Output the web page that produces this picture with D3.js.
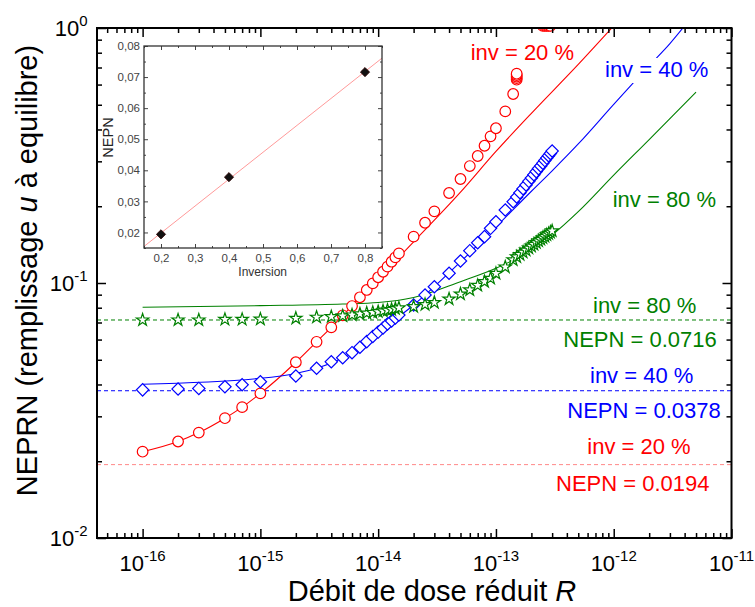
<!DOCTYPE html>
<html><head><meta charset="utf-8">
<script src="https://cdn.jsdelivr.net/npm/d3@7"></script>
<style>body{margin:0;background:#fff}svg text{font-family:"Liberation Sans",Arial,sans-serif}</style>
</head><body><svg id="c" width="755" height="607"></svg>
<script>
// ---------------- DATA ----------------
const redR = [1e-16,2e-16,3e-16,5e-16,7e-16,1e-15,2e-15,3e-15,4e-15,5e-15,6e-15,7e-15,8e-15,9e-15,1e-14,1.1e-14,1.2e-14,1.3e-14,1.4e-14,1.5e-14,2e-14,2.5e-14,3e-14,4e-14,5e-14,6e-14,7e-14,8e-14,9e-14,1e-13,1.2e-13,1.4e-13,1.5e-13,1.5e-13,1.5e-13,1.5e-13,1.5e-13,2.5e-13,2.6e-13,2.7e-13,2.8e-13,2.9e-13];
const redV = [0.0218,0.0239,0.0259,0.0295,0.0326,0.0369,0.0489,0.0588,0.0670,0.0747,0.0812,0.0879,0.0939,0.0997,0.1053,0.1107,0.1159,0.1212,0.1261,0.1307,0.152,0.1723,0.191,0.2254,0.2558,0.2875,0.3148,0.3454,0.376,0.4044,0.471,0.551,0.627,0.636,0.645,0.654,0.662,1.02,1.02,1.02,1.02,1.02];
const redFitR = [1e-16,2e-16,3e-16,5e-16,7e-16,1e-15,2e-15,3e-15,4e-15,5e-15,7e-15,1e-14,2e-14,5e-14,1e-13,2e-13,5e-13,1e-12];
const redFitV = [0.0218,0.0239,0.0259,0.0295,0.0326,0.0369,0.0489,0.0588,0.0670,0.0745,0.088,0.104,0.145,0.227,0.328,0.463,0.72,1.02];

const gridR = [1e-16,2e-16,3e-16,5e-16,7e-16,1e-15,2e-15,3e-15,4e-15,5e-15,6e-15,7e-15,8e-15,9e-15,1e-14,1.1e-14,1.2e-14,1.3e-14,1.4e-14,1.5e-14,2e-14,2.5e-14,3e-14,4e-14,5e-14,6e-14,7e-14,8e-14,9e-14,1e-13,1.2e-13,1.4e-13,1.5e-13,1.6e-13,1.7e-13,1.8e-13,1.9e-13,2e-13,2.1e-13,2.2e-13,2.3e-13,2.4e-13,2.5e-13,2.6e-13,2.7e-13,2.8e-13,2.9e-13,3e-13];
const blueV = [0.0381,0.0384,0.0386,0.0392,0.0399,0.0410,0.0432,0.0463,0.0491,0.0509,0.0533,0.0560,0.0589,0.0617,0.0642,0.0666,0.0691,0.0710,0.0729,0.0749,0.0820,0.0897,0.0967,0.1092,0.1220,0.1339,0.1439,0.1520,0.1638,0.1739,0.1933,0.2084,0.2174,0.2259,0.2343,0.2422,0.2504,0.2580,0.2658,0.2734,0.2809,0.2878,0.2949,0.3020,0.3089,0.3157,0.3223,0.3294];
const blueFitR = [1e-16,1e-15,2e-15,3e-15,5e-15,1e-14,2e-14,5e-14,1e-13,2e-13,3e-13,5e-13,1e-12,2e-12,3e-12,4e-12];
const blueFitV = [0.0401,0.0423,0.0442,0.0463,0.0509,0.0642,0.082,0.121,0.1658,0.229,0.2754,0.351,0.5017,0.712,0.869,1.02];

const greenV = [0.0716,0.0716,0.0716,0.0720,0.0720,0.0721,0.0727,0.0734,0.0738,0.0743,0.0749,0.0756,0.0762,0.0766,0.0772,0.0777,0.0782,0.0787,0.0793,0.0798,0.0808,0.0823,0.0838,0.0865,0.0905,0.0939,0.0978,0.1012,0.1043,0.1090,0.1155,0.1231,0.1265,0.1293,0.1320,0.1345,0.1371,0.1394,0.1417,0.1440,0.1462,0.1483,0.1503,0.1523,0.1543,0.1562,0.1581,0.1600];
const greenFitR = [1e-16,1e-15,5e-15,1e-14,2e-14,5e-14,1e-13,2e-13,3e-13,5e-13,1e-12,2e-12,5e-12];
const greenFitV = [0.0803,0.0815,0.0827,0.0838,0.0877,0.1012,0.1142,0.1347,0.1543,0.1905,0.265,0.3653,0.56];

const nepnLevels = [0.0716, 0.0378, 0.0194];
const invLabels = ["inv = 20 %", "inv = 40 %", "inv = 80 %"];
const nepnLabels = ["NEPN = 0.0716", "NEPN = 0.0378", "NEPN = 0.0194"];

const insetInv = [0.2, 0.4, 0.8];
const insetNepn = [0.0194, 0.0378, 0.0716];
const insetFitX = [0.15, 0.85];
const insetFitY = [0.0155, 0.0761];

const xDecades = [-16,-15,-14,-13,-12,-11];
const yDecades = [0,-1,-2];
const insetXTicks = [0.2,0.3,0.4,0.5,0.6,0.7,0.8];
const insetYTicks = [0.02,0.03,0.04,0.05,0.06,0.07,0.08];

// ---------------- DRAW ----------------
const RED="#ff0000", BLUE="#0000ff", GREEN="#008000";
const svg = d3.select("#c");
const M = {l:97, r:731.5, t:28, b:538};
const x = d3.scaleLog().domain([4.1e-17,1e-11]).range([M.l,M.r]);
const y = d3.scaleLog().domain([0.01,1]).range([M.b,M.t]);

svg.append("defs").append("clipPath").attr("id","pc").append("rect")
  .attr("x",M.l).attr("y",M.t).attr("width",M.r-M.l).attr("height",M.b-M.t);
const plot = svg.append("g").attr("clip-path","url(#pc)");

// dashed NEPN levels
const dashCols = [GREEN, BLUE, "#ff8888"];
nepnLevels.forEach((v,i)=>{
  plot.append("line").attr("x1",M.l).attr("x2",M.r).attr("y1",y(v)).attr("y2",y(v))
    .attr("stroke",dashCols[i]).attr("stroke-width",1).attr("stroke-dasharray","4,3");
});

const line = d3.line().x(d=>x(d[0])).y(d=>y(d[1])).curve(d3.curveMonotoneX);
function drawLine(R,V,c){
  plot.append("path").attr("d",line(R.map((r,i)=>[r,V[i]]))).attr("fill","none")
    .attr("stroke",c).attr("stroke-width",1.1);
}
drawLine(redFitR,redFitV,RED);
drawLine(blueFitR,blueFitV,BLUE);
drawLine(greenFitR,greenFitV,GREEN);

function drawMarks(R,V,sym,c,rot){
  plot.append("g").selectAll("path").data(R.map((r,i)=>[r,V[i]])).join("path")
    .attr("d",sym).attr("transform",d=>`translate(${x(d[0])},${y(d[1])})${rot?` rotate(${rot})`:""}`)
    .attr("fill","#fff").attr("stroke",c).attr("stroke-width",1.2);
}
drawMarks(redR,redV,d3.symbol(d3.symbolCircle,Math.PI*5.3*5.3)(),RED,0);
drawMarks(gridR,blueV,d3.symbol(d3.symbolSquare,76)(),BLUE,45);
drawMarks(gridR,greenV,d3.symbol(d3.symbolStar,48)(),GREEN,0);

// axes ticks (inward)
function minors(){const a=[];for(let k=-17;k<=-11;k++)for(let m=2;m<=9;m++){const v=m*Math.pow(10,k);if(v>=x.domain()[0]&&v<=x.domain()[1])a.push(v);}return a;}
function yminors(){const a=[];for(let k=-2;k<0;k++)for(let m=2;m<=9;m++)a.push(m*Math.pow(10,k));return a;}
const xMaj = xDecades.map(k=>Math.pow(10,k));
const yMaj = yDecades.map(k=>Math.pow(10,k));
const axG = svg.append("g");
function ax(gen,tx,ty,vals,size){
  const g=axG.append("g").attr("transform",`translate(${tx},${ty})`)
    .call(gen.tickValues(vals).tickSize(-size).tickFormat(""));
  g.select(".domain").remove();
  g.selectAll("line").attr("stroke","#000").attr("stroke-width",1.5);
}
ax(d3.axisBottom(x),0,M.b,xMaj,9); ax(d3.axisBottom(x),0,M.b,minors(),5);
ax(d3.axisTop(x),0,M.t,xMaj,9); ax(d3.axisTop(x),0,M.t,minors(),5);
ax(d3.axisLeft(y),M.l,0,yMaj,9); ax(d3.axisLeft(y),M.l,0,yminors(),5);
ax(d3.axisRight(y),M.r,0,yMaj,9); ax(d3.axisRight(y),M.r,0,yminors(),5);

svg.append("rect").attr("x",M.l).attr("y",M.t).attr("width",M.r-M.l).attr("height",M.b-M.t)
  .attr("fill","none").attr("stroke","#000").attr("stroke-width",2);

// tick labels
function supText(xp,yp,anchor,exp){
  const t=svg.append("text").attr("x",xp).attr("y",yp).attr("text-anchor",anchor).attr("font-size",22).attr("fill","#000");
  t.append("tspan").text("10");
  t.append("tspan").attr("font-size",15).attr("dy",-10).text(String(exp));
}
xDecades.forEach(k=>supText(x(Math.pow(10,k)),571,"middle",k));
yDecades.forEach(k=>supText(87.5,y(Math.pow(10,k))+8,"end",k));

// axis titles
const xt=svg.append("text").attr("x",432).attr("y",601).attr("text-anchor","middle").attr("font-size",29);
xt.append("tspan").text("Débit de dose réduit ");
xt.append("tspan").attr("font-style","italic").text("R");
const yt=svg.append("text").attr("transform","translate(36.5,270.5) rotate(-90)").attr("text-anchor","middle").attr("font-size",29);
yt.append("tspan").text("NEPRN (remplissage ");
yt.append("tspan").attr("font-style","italic").text("u");
yt.append("tspan").text(" à equilibre)");

// curve labels
const lab = [
  {t:invLabels[0], c:RED, x:470.7, y:60},
  {t:invLabels[1], c:BLUE, x:605, y:77, bg:true},
  {t:invLabels[2], c:GREEN, x:612.7, y:206.7},
  {t:invLabels[2], c:GREEN, x:593, y:313},
  {t:nepnLabels[0], c:GREEN, x:563.3, y:346.7},
  {t:invLabels[1], c:BLUE, x:590, y:383.3},
  {t:nepnLabels[1], c:BLUE, x:567.3, y:418.3},
  {t:invLabels[0], c:RED, x:587.3, y:454},
  {t:nepnLabels[2], c:RED, x:556, y:490.7}
];
lab.forEach(l=>{
  if(l.bg) svg.append("rect").attr("x",l.x-2).attr("y",l.y-19).attr("width",107).attr("height",25).attr("fill","#fff");
  svg.append("text").attr("x",l.x).attr("y",l.y).attr("font-size",22).attr("fill",l.c).text(l.t);
});

// ---------------- INSET ----------------
const I = {l:144, r:382, t:46, b:248};
const ix = d3.scaleLinear().domain([0.15,0.85]).range([I.l,I.r]);
const iy = d3.scaleLinear().domain([0.015,0.08]).range([I.b,I.t]);
const ig = svg.append("g");
ig.append("rect").attr("x",I.l).attr("y",I.t).attr("width",I.r-I.l).attr("height",I.b-I.t).attr("fill","#fff");
svg.append("defs").append("clipPath").attr("id","ic").append("rect")
  .attr("x",I.l).attr("y",I.t).attr("width",I.r-I.l).attr("height",I.b-I.t);
ig.append("line").attr("clip-path","url(#ic)")
  .attr("x1",ix(insetFitX[0])).attr("y1",iy(insetFitY[0])).attr("x2",ix(insetFitX[1])).attr("y2",iy(insetFitY[1]))
  .attr("stroke","#ff9a9a").attr("stroke-width",1);
ig.selectAll("path.pt").data(insetInv.map((v,i)=>[v,insetNepn[i]])).join("path").attr("class","pt")
  .attr("d",d3.symbol(d3.symbolSquare,42)()).attr("transform",d=>`translate(${ix(d[0])},${iy(d[1])}) rotate(45)`)
  .attr("fill","#111").attr("stroke","#2a0000").attr("stroke-width",0.8);

const fx = d=>d3.format(".1f")(d).replace(".",",");
const fy = d=>d3.format(".2f")(d).replace(".",",");
const ixMin=[0.15,0.25,0.35,0.45,0.55,0.65,0.75,0.85];
const iyMin=[0.015,0.025,0.035,0.045,0.055,0.065,0.075];
function iax(gen,tx,ty,vals,size,fmt,pad){
  const g=ig.append("g").attr("transform",`translate(${tx},${ty})`)
    .call(gen.tickValues(vals).tickSize(-size).tickPadding(pad||3).tickFormat(fmt||""));
  g.select(".domain").remove();
  g.selectAll("line").attr("stroke","#444").attr("stroke-width",1);
  g.selectAll("text").attr("fill","#444").attr("font-size",11.5).attr("font-family","Liberation Sans, Arial, sans-serif");
}
iax(d3.axisBottom(ix),0,I.b,insetXTicks,4,fx,5.5); iax(d3.axisBottom(ix),0,I.b,ixMin,2);
iax(d3.axisTop(ix),0,I.t,insetXTicks,4); iax(d3.axisTop(ix),0,I.t,ixMin,2);
iax(d3.axisLeft(iy),I.l,0,insetYTicks,4,fy,4); iax(d3.axisLeft(iy),I.l,0,iyMin,2);
iax(d3.axisRight(iy),I.r,0,insetYTicks,4); iax(d3.axisRight(iy),I.r,0,iyMin,2);
ig.append("rect").attr("x",I.l).attr("y",I.t).attr("width",I.r-I.l).attr("height",I.b-I.t)
  .attr("fill","none").attr("stroke","#333").attr("stroke-width",1.3);
ig.append("text").attr("x",262.7).attr("y",275.5).attr("text-anchor","middle").attr("font-size",12).attr("fill","#333").text("Inversion");
ig.append("text").attr("transform","translate(112.5,137.5) rotate(-90)").attr("text-anchor","middle").attr("font-size",14.5).attr("fill","#222").text("NEPN");
</script></body></html>
